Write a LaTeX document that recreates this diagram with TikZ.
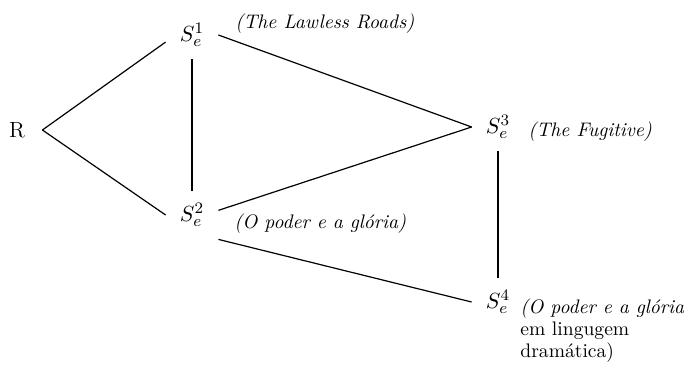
\documentclass[tikz,border=0pt]{standalone}
\usepackage{tikz}
\usetikzlibrary{positioning}

\begin{document}
\begin{tikzpicture}[
    font=\fontsize{11pt}{12pt}\selectfont,
    vtx/.style={on grid, minimum width=26pt, minimum height=24pt, inner sep=0pt},
    lbl/.style={anchor=base west, inner sep=0pt, align=left, font=\fontsize{9.8pt}{11pt}\selectfont},
    edge/.style={line width=0.6pt}
  ]
  \useasboundingbox (-8.5pt,-117.5pt) rectangle (333.5pt,65pt);

  % versions of the text
  \node[vtx, minimum width=25pt] (R) {R};
  \node[vtx, above right=47.5pt and 87.5pt of R] (s1) {$S_e^1$};
  \node[vtx, below right=42.5pt and 87.5pt of R] (s2) {$S_e^2$};
  \node[vtx, above right=1.5pt and 240.5pt of R] (s3) {$S_e^3$};
  \node[vtx, below=87.5pt of s3] (s4) {$S_e^4$};

  % titles
  \node[above right=3.5pt and 21.5pt of s1.center, lbl] (t1) {\textit{(The Lawless Roads)}};
  \node[below right=6.5pt and 21pt of s2.center, lbl] (t2) {\textit{(O poder e a glória)}};
  \node[below right=4.5pt and 15pt of s3.center, lbl] (t3) {\textit{(The Fugitive)}};
  \node[below right=27.5pt and 11pt of s4.center, lbl] (t4) {\textit{(O poder e a glória}\\em lingugem\\dramática)};

  \draw[edge] (R.east) -- (s1.195);
  \draw[edge] (R.east) -- (s2.west);
  \draw[edge] (s1.south) -- (s2.north);
  \draw[edge] (s1.east) -- (s3.west);
  \draw[edge] (s2.10) -- (s3.west);
  \draw[edge] (s2.south east) -- (s4.west);
  \draw[edge] (s3.south) -- (s4.north);
\end{tikzpicture}
\end{document}
